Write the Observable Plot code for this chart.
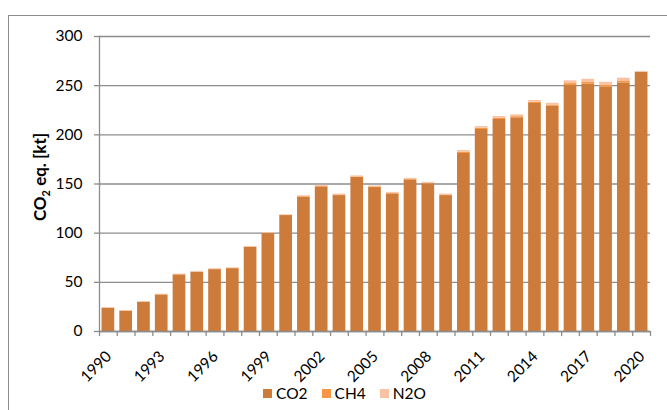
<!DOCTYPE html>
<html>
<head>
<meta charset="utf-8">
<script src="https://cdn.jsdelivr.net/npm/d3@7"></script>
<script src="https://cdn.jsdelivr.net/npm/@observablehq/plot@0.6"></script>
<style>
  body { margin: 0; background: #fff; font-family: Lato, "Open Sans", sans-serif; }
  #wrap { position: relative; width: 667px; height: 410px; overflow: hidden; background: #fff; }
  #frame { position: absolute; left: 8px; top: 15px; width: 720px; height: 500px; border: 1px solid #8c8c8c; box-sizing: border-box; pointer-events: none; }
  #legend { position: absolute; left: 263px; top: 384px; display: flex; align-items: center; font-size: 15.5px; color: #000; }
  #legend .item { display: flex; align-items: center; margin-right: 14px; }
  #legend .sw { width: 9px; height: 9px; margin-right: 4px; }
</style>
</head>
<body>
<div id="wrap">
  <div id="chart"></div>
  <div id="legend"></div>
  <div id="frame"></div>
</div>
<script>
const years = [1990,1991,1992,1993,1994,1995,1996,1997,1998,1999,2000,2001,2002,2003,2004,2005,2006,2007,2008,2009,2010,2011,2012,2013,2014,2015,2016,2017,2018,2019,2020];
const co2 = [23.5,20.5,29.6,37.1,57.5,60.2,62.9,63.9,85.6,99.6,117.9,136.5,147.0,138.2,156.6,146.4,139.9,154.2,150.1,138.2,181.0,205.4,215.6,217.3,231.9,229.1,250.1,251.7,248.7,252.8,263.6];
const ch4 = [0.3,0.3,0.3,0.3,0.3,0.3,0.3,0.3,0.3,0.3,0.3,0.6,0.6,0.6,0.6,0.6,0.6,0.6,0.6,0.6,1.2,1.2,1.2,1.2,1.2,1.2,2.0,2.0,2.0,2.0,0.3];
const n2o = [0.6,0.6,0.6,0.6,0.6,0.6,0.6,0.6,0.6,0.6,0.6,1.0,1.0,1.0,1.0,1.0,1.0,1.0,1.0,1.0,1.8,1.8,1.8,1.8,1.8,1.8,2.8,2.8,2.8,2.8,0.5];
const gases = ["CO2","CH4","N2O"];
const colors = ["#CC7B3A","#F79646","#F9C3A3"];
const yTicks = [0,50,100,150,200,250,300];
const labelYears = [1990,1993,1996,1999,2002,2005,2008,2011,2014,2017,2020];

const series = {CO2: co2, CH4: ch4, N2O: n2o};
const rows = years.flatMap((yr, i) => gases.map(g => ({year: yr, gas: g, value: series[g][i]})));

const W = 667, H = 378, ML = 99, MR = 17, MT = 36, MB = H - 331;
const step = (W - ML - MR) / years.length;
const grey = "#8c8c8c";
const font = "Lato, 'Open Sans', sans-serif";

const chart = Plot.plot({
  width: W, height: H,
  marginLeft: ML, marginRight: MR, marginTop: MT, marginBottom: MB,
  style: {fontFamily: font, fontSize: "15.5px", color: "#000", background: "transparent", overflow: "visible"},
  x: {type: "band", domain: years, paddingInner: 0.286, paddingOuter: 0.143, round: false, label: null, axis: null},
  y: {domain: [0, 300], label: null},
  color: {domain: gases, range: colors},
  marks: [
    Plot.gridY(yTicks, {stroke: grey, strokeOpacity: 1, strokeWidth: 1.3}),
    Plot.barY(rows, {x: "year", y: "value", fill: "gas", order: gases}),
    Plot.ruleY([0], {stroke: grey, strokeWidth: 1.3}),
    Plot.frame({anchor: "left", stroke: grey, strokeWidth: 1.3}),
    Plot.ruleX(years, {x: d => d, dx: -step / 2, y1: 0, y2: -5.2, stroke: grey, strokeWidth: 1.3}),
    Plot.ruleX([years[years.length - 1]], {x: d => d, dx: step / 2, y1: 0, y2: -5.2, stroke: grey, strokeWidth: 1.3}),
    Plot.axisY(yTicks, {tickSize: 5, tickPadding: 12, stroke: grey, strokeWidth: 1.3, fill: "#000", fontSize: 15.5}),
    Plot.text(labelYears, {x: d => d, y: 0, text: d => String(d), rotate: -45, textAnchor: "end", lineAnchor: "bottom",
      dx: 4, dy: 26, fontSize: 15.5, fill: "#000"})
  ]
});
document.getElementById("chart").appendChild(chart);

// y-axis title with real subscript
const svg = d3.select(chart);
const t = svg.append("text")
  .attr("transform", "translate(46,177) rotate(-90)")
  .attr("text-anchor", "middle")
  .attr("font-family", font)
  .attr("font-weight", "bold")
  .attr("font-size", 17)
  .attr("fill", "#000");
t.append("tspan").text("CO");
t.append("tspan").attr("font-size", 11).attr("dy", 4).text("2");
t.append("tspan").attr("dy", -4).text(" eq. [kt]");

// legend
const lg = d3.select("#legend");
gases.forEach((g, i) => {
  const it = lg.append("div").attr("class", "item");
  it.append("div").attr("class", "sw").style("background", colors[i]);
  it.append("span").text(g);
});
</script>
</body>
</html>
